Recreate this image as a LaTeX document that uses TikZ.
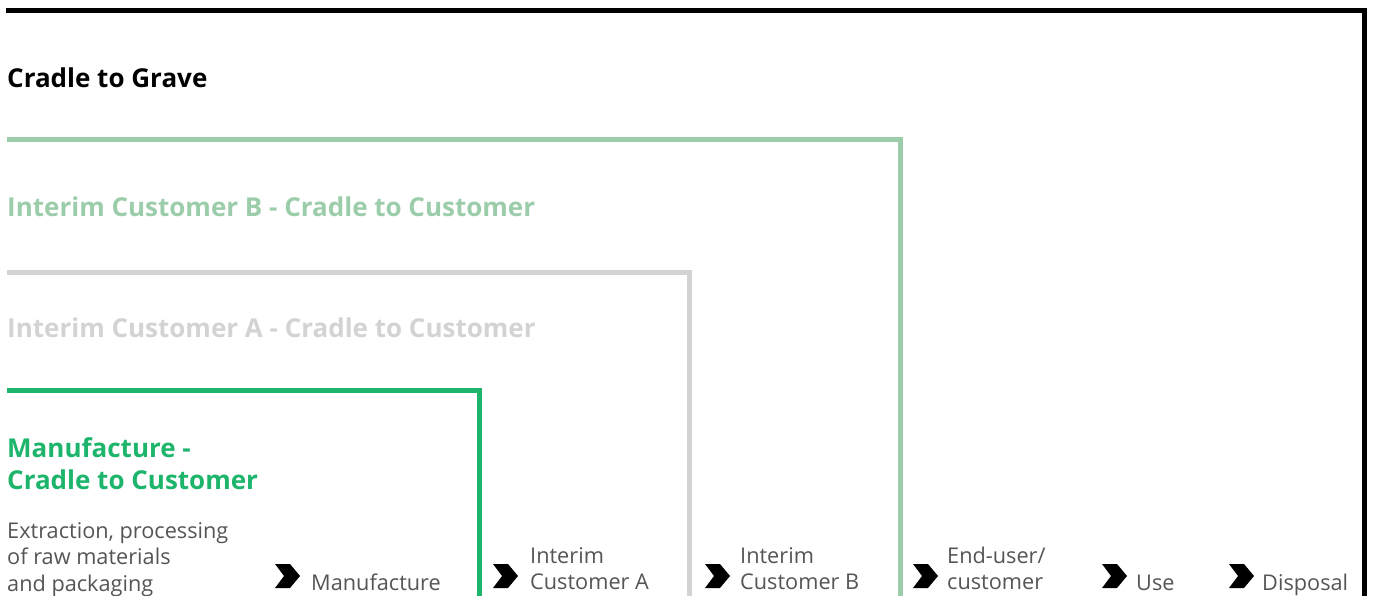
\documentclass[tikz,border=0pt]{standalone}
\usepackage{fontspec}
\setmainfont{Open Sans}
\definecolor{mfgreen}{HTML}{1DB56C}
\definecolor{ibgreen}{HTML}{9CCDAA}
\definecolor{iagray}{HTML}{D3D3D3}
\definecolor{stagetext}{HTML}{555555}

\begin{document}
\begin{tikzpicture}[x=1pt, y=-1pt,
  frame/.style={line width=5pt, line join=miter},
  heading/.style={anchor=base west, inner sep=0pt,
    font=\fontsize{26}{32}\selectfont\bfseries},
  stage/.style={anchor=base west, inner sep=0pt, text=stagetext,
    font=\fontsize{21.7}{26.5}\selectfont},
  chevron/.style={fill=black},
]

  \newcommand\chev[1]{\fill[chevron] (#1) ++(0,-12) -- ++(15,0) -- ++(10,12) -- ++(-10,12) -- ++(-15,0) -- ++(9,-12) -- cycle;}
  \newcommand\lines[1]{\begin{tabular}[t]{@{}l@{}}#1\end{tabular}}

  \useasboundingbox (0,0) rectangle (1373,596);

  % boundaries
  \draw[frame] (6,11) -- (1364,11) -- (1364,610);
  \draw[frame, ibgreen] (7,140) -- (900,140) -- (900,610);
  \draw[frame, iagray] (7,272) -- (689,272) -- (689,610);
  \draw[frame, mfgreen] (7,390) -- (479,390) -- (479,610);

  % headings
  \node[heading] (grave) at (7,88) {Cradle to Grave};
  \node[heading, text=ibgreen] (custb) at (7,216) {Interim Customer B - Cradle to Customer};
  \node[heading, text=iagray] (custa) at (7,337) {Interim Customer A - Cradle to Customer};
  \node[heading, text=mfgreen] (manuf) at (7,457) {\lines{Manufacture -\\Cradle to Customer}};

  % stages
  \node[stage] (extract) at (7,538) {\lines{Extraction, processing\\of raw materials\\and packaging}};
  \chev{275,576}
  \node[stage] (make) at (311,590) {Manufacture};
  \chev{493,576}
  \node[stage] (inta) at (530,563) {\lines{Interim\\Customer A}};
  \chev{705,576}
  \node[stage] (intb) at (740,563) {\lines{Interim\\Customer B}};
  \chev{913,576}
  \node[stage] (enduser) at (947,563) {\lines{End-user/\\customer}};
  \chev{1102,576}
  \node[stage] (use) at (1136,590) {Use};
  \chev{1229,576}
  \node[stage] (dispose) at (1262,590) {Disposal};

\end{tikzpicture}
\end{document}
